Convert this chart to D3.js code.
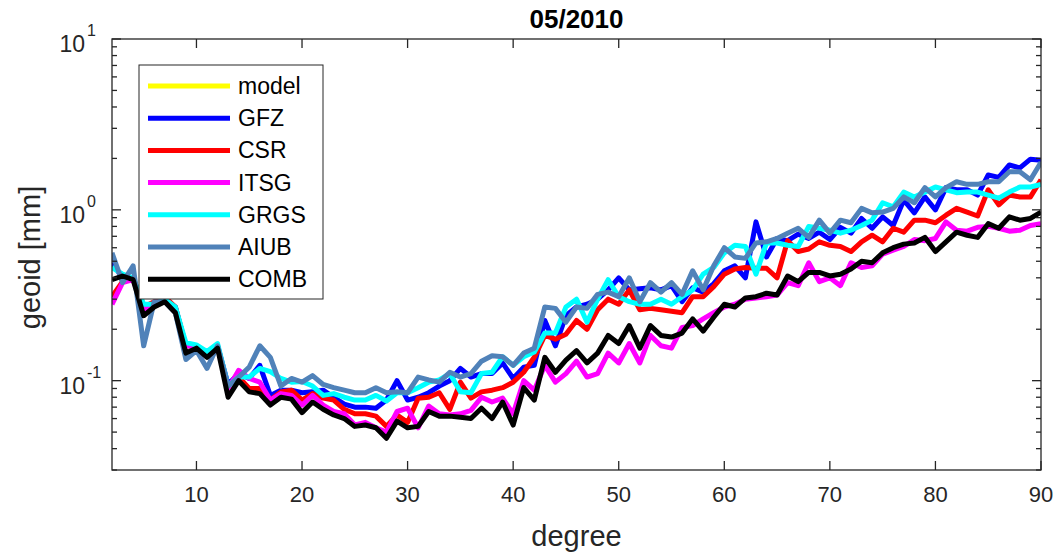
<!DOCTYPE html>
<html>
<head>
<meta charset="utf-8">
<script src="https://cdn.jsdelivr.net/npm/d3@7"></script>
<style>
  body { margin: 0; background: #fff; }
  svg { display: block; font-family: "Liberation Sans", Helvetica, Arial, sans-serif; }
</style>
</head>
<body>
<svg></svg>
<script>
// degrees 2..90
var degrees = d3.range(2, 91)

var seriesNames = ['model', 'GFZ', 'CSR', 'ITSG', 'GRGS', 'AIUB', 'COMB']
var seriesColors = ['#ffff00', '#0000ff', '#ff0000', '#ff00ff', '#00ffff', '#5082b9', '#000000']

// model curve is not visible in the picture, only its legend entry
var model = []

var gfz = [
  0.49, 0.40, 0.40, 0.26, 0.28, 0.30, 0.27, 0.16, 0.16, 0.145,
  0.16, 0.095, 0.11, 0.103, 0.123, 0.082, 0.088, 0.088, 0.085, 0.086,
  0.088, 0.080, 0.073, 0.070, 0.070, 0.069, 0.077, 0.10, 0.077, 0.080,
  0.085, 0.093, 0.10, 0.118, 0.105, 0.11, 0.11, 0.127, 0.103, 0.12,
  0.123, 0.225, 0.16, 0.24, 0.27, 0.28, 0.30, 0.34, 0.40, 0.34,
  0.345, 0.35, 0.34, 0.36, 0.29, 0.35, 0.33, 0.37, 0.44, 0.47,
  0.40, 0.85, 0.53, 0.68, 0.66, 0.72, 0.68, 0.74, 0.67, 0.79,
  0.73, 0.89, 0.78, 0.91, 0.81, 1.14, 0.96, 1.19, 1.0, 1.35,
  1.31, 1.31, 1.22, 1.6, 1.55, 1.83, 1.76, 1.98, 1.95
]

var csr = [
  0.31, 0.38, 0.40, 0.27, 0.29, 0.31, 0.27, 0.16, 0.16, 0.145,
  0.16, 0.09, 0.105, 0.09, 0.09, 0.077, 0.086, 0.088, 0.077, 0.084,
  0.079, 0.077, 0.068, 0.064, 0.064, 0.062, 0.054, 0.063, 0.057, 0.079,
  0.080, 0.085, 0.068, 0.098, 0.079, 0.086, 0.088, 0.091, 0.098, 0.112,
  0.137, 0.184, 0.175, 0.187, 0.225, 0.20, 0.26, 0.30, 0.28, 0.34,
  0.26, 0.265, 0.26, 0.255, 0.25, 0.31, 0.31, 0.355, 0.42, 0.45,
  0.46, 0.455, 0.455, 0.40, 0.66, 0.57, 0.59, 0.65, 0.62, 0.61,
  0.57, 0.65, 0.71, 0.65, 0.78, 0.74, 0.87, 0.87, 0.84, 0.93,
  1.02, 0.97, 0.92, 1.31, 1.07, 1.22, 1.19, 1.19, 1.50
]

var itsg = [
  0.28, 0.375, 0.39, 0.26, 0.28, 0.30, 0.26, 0.16, 0.16, 0.14,
  0.16, 0.09, 0.115, 0.103, 0.098, 0.077, 0.084, 0.082, 0.072, 0.082,
  0.072, 0.066, 0.064, 0.055, 0.057, 0.053, 0.050, 0.066, 0.069, 0.053,
  0.071, 0.064, 0.063, 0.064, 0.067, 0.080, 0.075, 0.079, 0.064, 0.10,
  0.088, 0.123, 0.098, 0.11, 0.13, 0.105, 0.11, 0.145, 0.127, 0.165,
  0.127, 0.184, 0.16, 0.155, 0.205, 0.21, 0.23, 0.25, 0.27, 0.28,
  0.30, 0.305, 0.31, 0.317, 0.375, 0.36, 0.49, 0.38, 0.40, 0.36,
  0.49, 0.46, 0.47, 0.55, 0.58, 0.61, 0.67, 0.66, 0.68, 0.85,
  0.76, 0.75, 0.79, 0.80, 0.78, 0.75, 0.76, 0.81, 0.83
]

var grgs = [
  0.46, 0.42, 0.40, 0.28, 0.28, 0.30, 0.27, 0.167, 0.162, 0.148,
  0.165, 0.093, 0.105, 0.105, 0.118, 0.113, 0.103, 0.098, 0.099, 0.093,
  0.082, 0.084, 0.080, 0.077, 0.077, 0.082, 0.076, 0.085, 0.085, 0.091,
  0.098, 0.101, 0.11, 0.086, 0.085, 0.11, 0.112, 0.138, 0.123, 0.138,
  0.147, 0.19, 0.19, 0.27, 0.30, 0.22, 0.30, 0.39, 0.31, 0.29,
  0.28, 0.28, 0.30, 0.28, 0.31, 0.34, 0.42, 0.46, 0.56, 0.62,
  0.61, 0.42, 0.64, 0.64, 0.62, 0.61, 0.80, 0.78, 0.76, 0.73,
  0.76, 0.81, 0.87, 1.10, 1.04, 1.27, 1.19, 1.27, 1.36, 1.31,
  1.26, 1.27, 1.27, 1.22, 1.17, 1.27, 1.36, 1.36, 1.41
]

var aiub = [
  0.56, 0.375, 0.47, 0.16, 0.29, 0.29, 0.25, 0.133, 0.15, 0.118,
  0.16, 0.093, 0.105, 0.12, 0.16, 0.137, 0.093, 0.103, 0.098, 0.107,
  0.095, 0.091, 0.088, 0.085, 0.085, 0.091, 0.085, 0.086, 0.085, 0.105,
  0.101, 0.098, 0.112, 0.105, 0.11, 0.13, 0.14, 0.138, 0.123, 0.145,
  0.155, 0.27, 0.265, 0.22, 0.27, 0.265, 0.32, 0.33, 0.31, 0.40,
  0.29, 0.375, 0.33, 0.375, 0.32, 0.44, 0.34, 0.47, 0.60, 0.53,
  0.52, 0.64, 0.65, 0.68, 0.73, 0.78, 0.69, 0.87, 0.73, 0.87,
  0.84, 1.02, 0.96, 0.97, 1.02, 1.19, 1.10, 1.35, 1.19, 1.35,
  1.46, 1.41, 1.41, 1.46, 1.46, 1.67, 1.67, 1.50, 1.90
]

var comb = [
  0.39, 0.41, 0.39, 0.24, 0.27, 0.29, 0.25, 0.145, 0.155, 0.137,
  0.155, 0.080, 0.10, 0.086, 0.084, 0.072, 0.080, 0.078, 0.065, 0.075,
  0.068, 0.063, 0.060, 0.054, 0.055, 0.053, 0.046, 0.058, 0.053, 0.054,
  0.066, 0.062, 0.062, 0.061, 0.060, 0.069, 0.060, 0.075, 0.055, 0.091,
  0.077, 0.137, 0.112, 0.132, 0.15, 0.127, 0.145, 0.184, 0.165, 0.21,
  0.155, 0.21, 0.184, 0.18, 0.19, 0.23, 0.195, 0.235, 0.28, 0.27,
  0.305, 0.31, 0.325, 0.317, 0.41, 0.38, 0.43, 0.43, 0.41, 0.42,
  0.45, 0.50, 0.49, 0.56, 0.60, 0.63, 0.64, 0.69, 0.57, 0.65,
  0.74, 0.71, 0.69, 0.83, 0.78, 0.91, 0.87, 0.89, 0.97
]

var seriesValues = [model, gfz, csr, itsg, grgs, aiub, comb]

var xTicks = [10, 20, 30, 40, 50, 60, 70, 80, 90]
var yMajorTicks = [0.1, 1, 10]
var yExponents = ['-1', '0', '1']

var width = 1056
var height = 556
var margin = { left: 112, right: 1041, top: 39, bottom: 470 }
var axisColor = '#262626'

var svg = d3.select('svg').attr('width', width).attr('height', height)

var x = d3.scaleLinear().domain([2, 90]).range([margin.left, margin.right])
var y = d3.scaleLog().domain([0.03, 10]).range([margin.bottom, margin.top])

// clip so lines stay inside the axes box
svg.append('defs').append('clipPath').attr('id', 'plotclip')
  .append('rect')
    .attr('x', margin.left).attr('y', margin.top)
    .attr('width', margin.right - margin.left)
    .attr('height', margin.bottom - margin.top)

// series lines
var line = d3.line()
  .x(function (d) { return x(d.deg) })
  .y(function (d) { return y(d.val) })

var lineGroup = svg.append('g').attr('clip-path', 'url(#plotclip)')
seriesValues.forEach(function (vals, i) {
  var pts = vals.map(function (v, j) { return { deg: degrees[j], val: v } })
  if (pts.length === 0) return
  lineGroup.append('path')
    .datum(pts)
    .attr('fill', 'none')
    .attr('stroke', seriesColors[i])
    .attr('stroke-width', 5)
    .attr('stroke-linejoin', 'round')
    .attr('d', line)
})

// axes, ticks inside, box on
var minorTicks = y.ticks().filter(function (t) {
  return yMajorTicks.indexOf(t) < 0 && t >= 0.03 && t <= 10
})

var axisG = svg.append('g').attr('stroke', axisColor)

axisG.append('rect')
  .attr('x', margin.left).attr('y', margin.top)
  .attr('width', margin.right - margin.left)
  .attr('height', margin.bottom - margin.top)
  .attr('fill', 'none')
  .attr('stroke-width', 1.3)

xTicks.forEach(function (t) {
  axisG.append('line')
    .attr('x1', x(t)).attr('x2', x(t))
    .attr('y1', margin.bottom).attr('y2', margin.bottom - 9)
  axisG.append('line')
    .attr('x1', x(t)).attr('x2', x(t))
    .attr('y1', margin.top).attr('y2', margin.top + 9)
})

yMajorTicks.forEach(function (t) {
  axisG.append('line')
    .attr('x1', margin.left).attr('x2', margin.left + 9)
    .attr('y1', y(t)).attr('y2', y(t))
  axisG.append('line')
    .attr('x1', margin.right).attr('x2', margin.right - 9)
    .attr('y1', y(t)).attr('y2', y(t))
})

minorTicks.forEach(function (t) {
  axisG.append('line')
    .attr('x1', margin.left).attr('x2', margin.left + 5)
    .attr('y1', y(t)).attr('y2', y(t))
  axisG.append('line')
    .attr('x1', margin.right).attr('x2', margin.right - 5)
    .attr('y1', y(t)).attr('y2', y(t))
})

axisG.selectAll('line').attr('stroke-width', 1.3)

// tick labels
svg.append('g').selectAll('text')
  .data(xTicks)
  .enter().append('text')
    .attr('x', function (d) { return x(d) })
    .attr('y', 502)
    .attr('text-anchor', 'middle')
    .attr('font-size', 22)
    .attr('fill', axisColor)
    .text(function (d) { return d })

yMajorTicks.forEach(function (t, i) {
  svg.append('text')
    .attr('x', 85)
    .attr('y', y(t) + 13)
    .attr('text-anchor', 'end')
    .attr('font-size', 23)
    .attr('fill', axisColor)
    .text('10')
  svg.append('text')
    .attr('x', 87)
    .attr('y', y(t) - 3)
    .attr('font-size', 16)
    .attr('fill', axisColor)
    .text(yExponents[i])
})

// labels and title
svg.append('text')
  .attr('x', (margin.left + margin.right) / 2)
  .attr('y', 546)
  .attr('text-anchor', 'middle')
  .attr('font-size', 29)
  .attr('fill', axisColor)
  .text('degree')

svg.append('text')
  .attr('transform', 'translate(40,' + ((margin.top + margin.bottom) / 2 + 3) + ') rotate(-90)')
  .attr('text-anchor', 'middle')
  .attr('font-size', 29)
  .attr('fill', axisColor)
  .text('geoid [mm]')

svg.append('text')
  .attr('x', (margin.left + margin.right) / 2)
  .attr('y', 28)
  .attr('text-anchor', 'middle')
  .attr('font-size', 26)
  .attr('font-weight', 'bold')
  .attr('fill', '#000')
  .text('05/2010')

// legend
var legend = svg.append('g')
legend.append('rect')
  .attr('x', 139).attr('y', 65)
  .attr('width', 184).attr('height', 234)
  .attr('fill', '#fff')
  .attr('stroke', axisColor)
  .attr('stroke-width', 1)

seriesNames.forEach(function (name, i) {
  var ry = 86 + i * 32.2
  legend.append('line')
    .attr('x1', 148).attr('x2', 230)
    .attr('y1', ry).attr('y2', ry)
    .attr('stroke', seriesColors[i])
    .attr('stroke-width', 5)
  legend.append('text')
    .attr('x', 238)
    .attr('y', ry + 8)
    .attr('font-size', 23)
    .attr('fill', '#000')
    .text(name)
})
</script>
</body>
</html>
